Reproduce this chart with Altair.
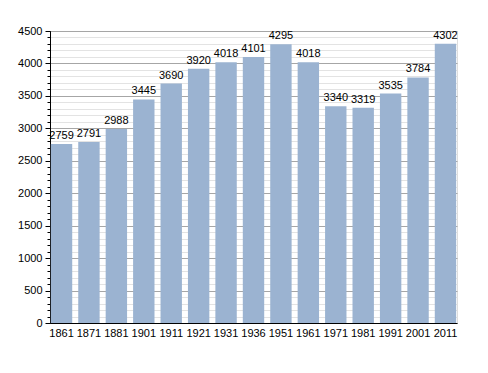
import altair as alt
import pandas as pd

years = ["1861", "1871", "1881", "1901", "1911", "1921", "1931", "1936",
         "1951", "1961", "1971", "1981", "1991", "2001", "2011"]
population = [2759, 2791, 2988, 3445, 3690, 3920, 4018, 4101,
              4295, 4018, 3340, 3319, 3535, 3784, 4302]
major_ticks = list(range(0, 4501, 500))
minor_ticks = list(range(0, 4501, 100))

df = pd.DataFrame({"year": years, "pop": population})

FONT = "Liberation Sans"

x = alt.X("year:O", sort=years, title=None,
          scale=alt.Scale(paddingInner=0.22, paddingOuter=0.03),
          axis=alt.Axis(labelAngle=0, ticks=False, domainColor="#000000",
                        labelColor="#000000", labelFont=FONT, labelFontSize=11,
                        labelPadding=4, domainWidth=1))
yscale = alt.Scale(domain=[0, 4500], nice=False)

bars = alt.Chart(df).mark_bar(color="#9bb3d1").encode(
    x=x,
    y=alt.Y("pop:Q", scale=yscale, title=None,
            axis=alt.Axis(orient="left", values=minor_ticks, labels=False,
                          domain=False, tickSize=3, tickColor="#000000",
                          grid=True, gridColor="#e3e3e3", gridWidth=1)),
)

text = alt.Chart(df).mark_text(baseline="alphabetic", dy=-5, font=FONT,
                               fontSize=11, color="#000000").encode(
    x=x,
    y=alt.Y("pop:Q", scale=yscale, title=None,
            axis=alt.Axis(orient="left", values=major_ticks, format="d",
                          tickSize=5, tickColor="#000000",
                          domainColor="#000000", labelColor="#000000",
                          labelFont=FONT, labelFontSize=11, labelPadding=3,
                          grid=True, gridColor="#a6a6a6", gridWidth=1)),
    text=alt.Text("pop:Q", format="d"),
)

chart = alt.layer(bars, text).resolve_axis(y="independent").properties(
    width=407, height=292,
    autosize=alt.AutoSizeParams(type="none"),
    padding={"left": 42, "top": 23, "right": 22, "bottom": 40},
).configure_view(stroke=None).configure(background="#ffffff")

chart.save("out.html", embed_options={"renderer": "svg", "actions": False})
